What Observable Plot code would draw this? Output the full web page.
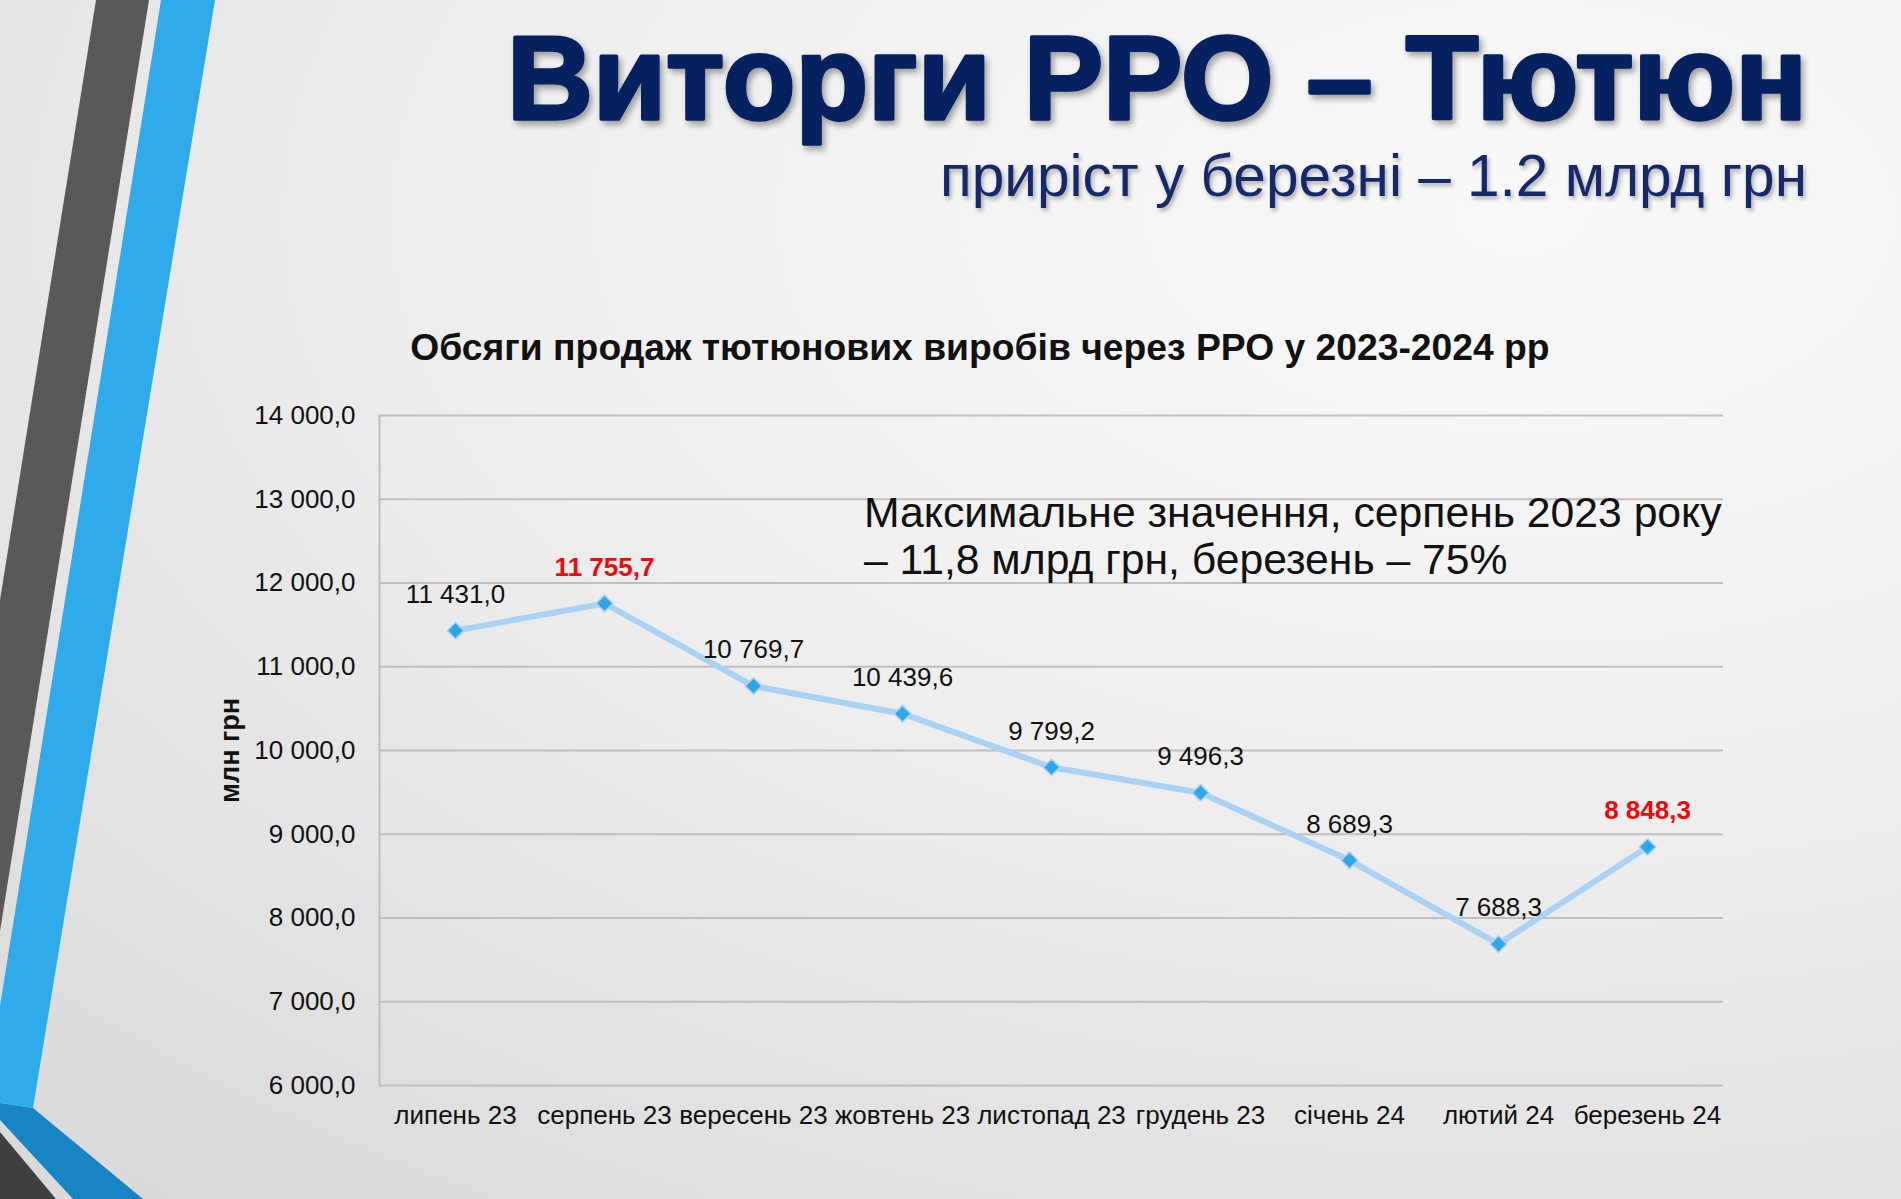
<!DOCTYPE html>
<html>
<head>
<meta charset="utf-8">
<script src="https://cdn.jsdelivr.net/npm/d3@7"></script>
<script src="https://cdn.jsdelivr.net/npm/@observablehq/plot@0.6"></script>
<style>
  html, body { margin: 0; padding: 0; }
  body {
    width: 1901px; height: 1199px; overflow: hidden; position: relative;
    font-family: "Liberation Sans", Arial, sans-serif;
    background: radial-gradient(ellipse 115% 105% at 80% 18%, #f9f9f9 0%, #efefef 45%, #dadada 100%);
  }
  .layer { position: absolute; left: 0; top: 0; }
</style>
</head>
<body>
<svg id="deco" class="layer" width="1901" height="1199"></svg>
<div id="chart" class="layer"></div>
<svg id="texts" class="layer" width="1901" height="1199"></svg>
<script>
// ---- data ----
const months = ["липень 23", "серпень 23", "вересень 23", "жовтень 23", "листопад 23", "грудень 23", "січень 24", "лютий 24", "березень 24"];
const values = [11431.0, 11755.7, 10769.7, 10439.6, 9799.2, 9496.3, 8689.3, 7688.3, 8848.3];
const highlighted = ["серпень 23", "березень 24"];
const yTicks = [6000, 7000, 8000, 9000, 10000, 11000, 12000, 13000, 14000];
const titleText = "Виторги РРО – Тютюн";
const subtitleText = "приріст у березні – 1.2 млрд грн";
const chartTitleText = "Обсяги продаж тютюнових виробів через РРО у 2023-2024 рр";
const yLabelText = "млн грн";
const noteLines = ["Максимальне значення, серпень 2023 року", "– 11,8 млрд грн, березень – 75%"];

const data = months.map((m, i) => ({month: m, value: values[i], hi: highlighted.includes(m)}));
const fmt = d3.formatLocale({decimal: ",", thousands: " ", grouping: [3], currency: ["", ""]}).format(",.1f");

// ---- background decoration ----
const NS = "http://www.w3.org/2000/svg";
const deco = document.getElementById("deco");
[
  ["#595959", "96,0 149,0 0,931 0,600"],
  ["#2fabeb", "161,0 215,0 33,1108 0,1103 0,1006"],
  ["#1784c3", "0,1103 33,1108 143,1199 73,1199 0,1120"],
  ["#404040", "0,1132 56,1199 0,1199"]
].forEach(([c, p]) => {
  const poly = document.createElementNS(NS, "polygon");
  poly.setAttribute("points", p);
  poly.setAttribute("fill", c);
  deco.appendChild(poly);
});

// ---- chart ----
const chart = Plot.plot({
  width: 1901, height: 1199,
  marginLeft: 379, marginRight: 178, marginTop: 415, marginBottom: 114,
  style: {background: "transparent", fontFamily: "'Liberation Sans', Arial, sans-serif", color: "#111", overflow: "visible"},
  x: {type: "point", domain: months, padding: 0.5},
  y: {domain: [6000, 14000]},
  marks: [
    Plot.gridY(yTicks, {stroke: "#bfbfbf", strokeOpacity: 1, strokeWidth: 2}),
    Plot.frame({anchor: "left", stroke: "#bfbfbf", strokeWidth: 2}),
    Plot.axisY({ticks: yTicks, tickFormat: fmt, tickSize: 0, tickPadding: 24, fontSize: 26, label: null}),
    Plot.axisX({tickSize: 0, tickPadding: 20, fontSize: 26, label: null}),
    Plot.text([yLabelText], {frameAnchor: "left", textAnchor: "middle", lineAnchor: "middle", rotate: -90, dx: -149, fontWeight: "bold", fontSize: 27, fill: "#111"}),
    Plot.line(data, {x: "month", y: "value", stroke: "#aad2f4", strokeWidth: 6}),
    Plot.dot(data, {x: "month", y: "value", symbol: "diamond2", r: 7.5, fill: "#2ea7e7", stroke: "#aad2f4", strokeWidth: 1.5}),
    Plot.text(data, {filter: d => !d.hi, x: "month", y: "value", text: d => fmt(d.value), dy: -36, fontSize: 26, fill: "#111"}),
    Plot.text(data, {filter: d => d.hi, x: "month", y: "value", text: d => fmt(d.value), dy: -36, fontSize: 26, fontWeight: "bold", fill: "#ee0a0a"})
  ]
});
document.getElementById("chart").appendChild(chart);

// ---- text layer ----
const texts = document.getElementById("texts");
function addText(str, opts) {
  const t = document.createElementNS(NS, "text");
  t.textContent = str;
  t.setAttribute("font-family", "'Liberation Sans', Arial, sans-serif");
  t.setAttribute("font-size", opts.size);
  t.setAttribute("font-weight", opts.weight || "normal");
  t.setAttribute("fill", opts.fill || "#111");
  if (opts.stroke) { t.setAttribute("stroke", opts.stroke); t.setAttribute("stroke-width", opts.strokeWidth); t.setAttribute("stroke-linejoin", "round"); }
  if (opts.shadow) t.setAttribute("style", "filter: drop-shadow(" + opts.shadow + ")");
  t.setAttribute("y", opts.y);
  texts.appendChild(t);
  if (opts.width) {
    const w = t.getComputedTextLength();
    t.setAttribute("font-size", opts.size * opts.width / w);
  }
  const w2 = t.getComputedTextLength();
  let x = opts.x;
  if (opts.anchor === "end") x = opts.x - w2;
  if (opts.anchor === "middle") x = opts.x - w2 / 2;
  t.setAttribute("x", x);
  return t;
}
addText(titleText, {x: 1807, y: 119, size: 114, weight: "bold", fill: "#062160", stroke: "#062160", strokeWidth: 3.5, width: 1300, anchor: "end", shadow: "3px 4px 3px rgba(0,0,0,0.35)"});
addText(subtitleText, {x: 1807, y: 196, size: 57, fill: "#15296a", width: 867, anchor: "end", shadow: "2px 3px 2px rgba(0,0,0,0.3)"});
addText(chartTitleText, {x: 980, y: 360, size: 35, weight: "bold", fill: "#111", width: 1140, anchor: "middle"});
const n1 = addText(noteLines[0], {x: 864, y: 527, size: 40, fill: "#111", width: 858});
addText(noteLines[1], {x: 864, y: 574, size: +n1.getAttribute("font-size"), fill: "#111"});
</script>
</body>
</html>
